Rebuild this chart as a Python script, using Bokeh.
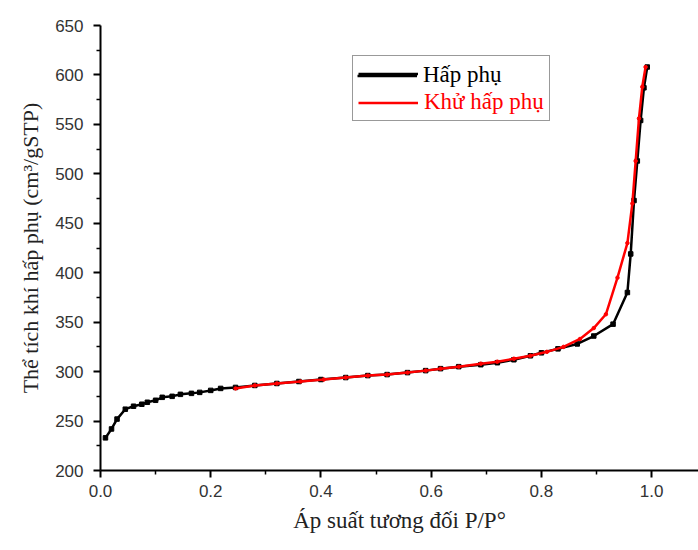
from bokeh.plotting import figure
from bokeh.models import Range1d, Legend, LegendItem, FixedTicker, PrintfTickFormatter
from bokeh.embed import file_html
from bokeh.resources import INLINE

# Adsorption branch (Hấp phụ)
ads_x = [0.009, 0.02, 0.03, 0.045, 0.06, 0.075, 0.085, 0.1, 0.112, 0.13, 0.145, 0.165, 0.18,
         0.2, 0.218, 0.245, 0.28, 0.32, 0.36, 0.40, 0.445, 0.485, 0.52, 0.557, 0.59, 0.617,
         0.65, 0.69, 0.72, 0.75, 0.78, 0.80, 0.83, 0.865, 0.895, 0.93, 0.956, 0.962, 0.968,
         0.974, 0.98, 0.986, 0.992]
ads_y = [233, 242, 252, 262, 265, 267, 269, 271, 274, 275, 277, 278, 279,
         281, 283, 284, 286, 288, 290, 292, 294, 296, 297, 299, 301, 303,
         305, 307, 309, 312, 316, 319, 323, 328, 336, 348, 380, 419, 473,
         513, 554, 587, 608]

# Desorption branch (Khử hấp phụ)
des_x = [0.989, 0.983, 0.977, 0.971, 0.965, 0.956, 0.938, 0.917, 0.895, 0.87, 0.84, 0.81,
         0.78, 0.75, 0.72, 0.69, 0.65, 0.617, 0.59, 0.557, 0.52, 0.485, 0.445, 0.405,
         0.363, 0.32, 0.28, 0.245]
des_y = [608, 588, 556, 513, 470, 430, 395, 358, 344, 333, 325, 320,
         316, 313, 310, 308, 305, 303, 301, 299, 297, 296, 294, 292,
         290, 288, 286, 283]

x_ticks = [0.0, 0.2, 0.4, 0.6, 0.8, 1.0]
y_ticks = [200, 250, 300, 350, 400, 450, 500, 550, 600, 650]

p = figure(width=698, height=550, output_backend="svg", toolbar_location=None,
           x_range=Range1d(0, 1.085), y_range=Range1d(200, 650),
           min_border_left=100, min_border_right=0, min_border_top=25, min_border_bottom=80)

p.outline_line_color = None
p.xgrid.visible = False
p.ygrid.visible = False

for ax in (p.xaxis[0], p.yaxis[0]):
    ax.axis_line_width = 2
    ax.axis_line_color = "black"
    ax.major_tick_line_width = 2
    ax.minor_tick_line_width = 1.5
    ax.major_tick_line_color = "black"
    ax.minor_tick_line_color = "black"
    ax.major_tick_out = 7
    ax.major_tick_in = 0
    ax.minor_tick_out = 4
    ax.minor_tick_in = 0
    ax.major_label_text_font = "Liberation Sans"
    ax.major_label_text_font_size = "17px"
    ax.major_label_text_color = "#333333"
    ax.axis_label_text_font = "Liberation Serif"
    ax.axis_label_text_font_style = "normal"
    ax.axis_label_text_color = "#222222"

p.xaxis.axis_label_text_font_size = "23px"
p.yaxis.axis_label_text_font_size = "22px"
p.xaxis.ticker = FixedTicker(ticks=x_ticks, minor_ticks=[0.1, 0.3, 0.5, 0.7, 0.9, 1.1])
p.yaxis.ticker = FixedTicker(ticks=y_ticks, minor_ticks=[225, 275, 325, 375, 425, 475, 525, 575, 625])
p.xaxis.formatter = PrintfTickFormatter(format="%.1f")
p.xaxis.major_label_standoff = 7
p.yaxis.major_label_standoff = 10
p.xaxis.axis_label = "Áp suất tương đối P/P°"
p.yaxis.axis_label = "Thể tích khí hấp phụ (cm³/gSTP)"
p.xaxis.axis_label_standoff = 8
p.yaxis.axis_label_standoff = 9

l1 = p.line(ads_x, ads_y, line_color="black", line_width=2.5)
s1 = p.scatter(ads_x, ads_y, marker="square", size=4.5, color="black")
l2 = p.line(des_x, des_y, line_color="red", line_width=2.5)
s2 = p.scatter(des_x, des_y, marker="circle", size=3.5, color="red")

P, S, H = 5, 3, 25
common = dict(padding=P, spacing=S, label_height=H, glyph_height=H, glyph_width=60,
              label_standoff=6, label_text_font="Liberation Serif", label_text_font_size="23px",
              margin=0)

leg_a = Legend(items=[LegendItem(label=" ", renderers=[l1]),
                      LegendItem(label="Khử hấp phụ", renderers=[l2])],
               location=(252, 349), border_line_color="#333333", border_line_width=1.5,
               background_fill_alpha=1, label_text_color="red", **common)
leg_b = Legend(items=[LegendItem(label="Hấp phụ", renderers=[l1])],
               location=(252, 349 + H + S), border_line_alpha=0, background_fill_alpha=0,
               label_text_color="black", **common)
p.add_layout(leg_a)
p.add_layout(leg_b)

open("out.html", "w").write(file_html(p, INLINE))
